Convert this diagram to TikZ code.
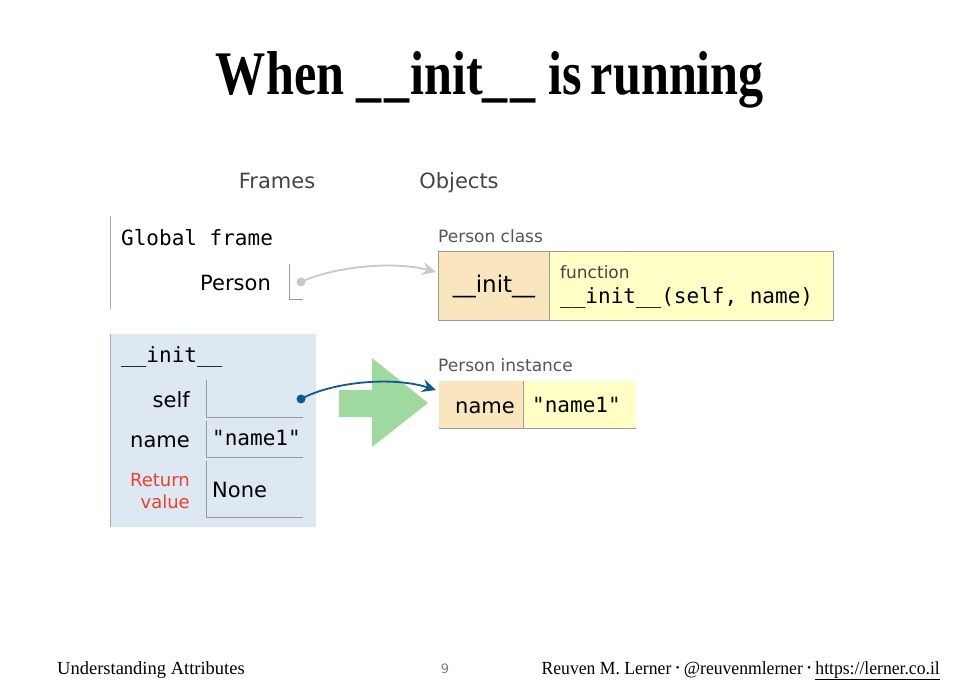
\documentclass[tikz,border=0pt]{standalone}
\usepackage{fontspec}
\setmainfont{Liberation Serif}
\setsansfont{DejaVu Sans}
\setmonofont{DejaVu Sans Mono}
\usepackage{xcolor}
\usetikzlibrary{arrows.meta, positioning, calc}

\definecolor{framebg}{HTML}{DDE8F3}
\definecolor{framerule}{HTML}{A9A9A9}
\definecolor{keycell}{HTML}{F9E6BE}
\definecolor{valcell}{HTML}{FFFFC6}
\definecolor{cellrule}{HTML}{9A9A9A}
\definecolor{refblue}{HTML}{0F5A8C}
\definecolor{refgray}{HTML}{C8C8C8}
\definecolor{bigarrow}{HTML}{9FD99F}
\definecolor{retred}{HTML}{E8412F}
\definecolor{labelgray}{HTML}{555555}
\definecolor{headgray}{HTML}{444444}

\newcommand{\sepdot}{\raisebox{0.35ex}{\scalebox{0.6}{\textbullet}}}

\begin{document}
\begin{tikzpicture}[
  x=1bp, y=-1bp,
  sans/.style={font=\sffamily\fontsize{21bp}{25bp}\selectfont, inner sep=0pt},
  mono/.style={font=\ttfamily\fontsize{21bp}{25bp}\selectfont, inner sep=0pt},
  smalllabel/.style={font=\sffamily\fontsize{17bp}{20bp}\selectfont, text=labelgray, inner sep=0pt},
  heading/.style={font=\sffamily\fontsize{21bp}{25bp}\selectfont, text=headgray, inner sep=0pt},
  retlabel/.style={font=\sffamily\fontsize{18bp}{23bp}\selectfont, text=retred, inner sep=0pt, align=right},
  footer/.style={font=\fontsize{18.5bp}{22bp}\selectfont, inner sep=0pt},
  keybox/.style={rectangle, fill=keycell, anchor=north west, inner sep=0pt},
  valbox/.style={rectangle, fill=valcell, anchor=north west, inner sep=0pt},
  framebox/.style={rectangle, fill=framebg, anchor=north west, inner sep=0pt},
  refdot/.style={circle, inner sep=0pt, minimum size=9bp},
  pointer/.style={line width=1.8bp, -{Stealth[length=14bp, width=13bp, inset=5bp]}},
  rule/.style={draw=cellrule, line width=1bp}
]
% page
\fill[white] (0,0) rectangle (980,692);

% title
\node[anchor=base, inner sep=0pt] (title) at (490,95)
  {\scalebox{0.81}[1]{\fontsize{62bp}{66bp}\selectfont\bfseries When \_\kern3bp\_\kern1bp init\_\kern3bp\_ is\kern-4bp\ running}};

% column headings
\node[heading, anchor=base] (frames) at (277,189) {Frames};
\node[heading, anchor=base] (objects) at (459,189) {Objects};

% global frame
\draw[draw=framerule, line width=1bp] (110,216) -- (110,309);
\node[mono, anchor=base west] (global) at (121,245) {Global frame};
\node[sans, anchor=base east] (personvar) at (271,290) {Person};
\coordinate (personcell) at (289,264);
\draw[rule] (personcell) -- ++(0,35) -- ++(14,0);
\node[refdot, fill=refgray] (persondot) at (301,282) {};

% Person class
\node[smalllabel, anchor=base west] (classlbl) at (438,242) {Person class};
\node[keybox, minimum width=111bp, minimum height=69bp] (initkey) at (438,251) {};
\node[valbox, minimum width=284bp, minimum height=69bp] (initval) at (549,251) {};
\node[font=\sffamily\fontsize{23bp}{27bp}\selectfont, inner sep=0pt, anchor=base] (initname) at (494,292) {\_\_init\_\_};
\node[smalllabel, text=headgray, anchor=base west] (funclbl) at (560,278) {function};
\node[mono, anchor=base west] (funcsig) at (560,303) {\_\_init\_\_(self, name)};
\draw[rule] (initkey.north west) rectangle (initval.south east);
\draw[rule] (initkey.north east) -- (initkey.south east);

% __init__ frame
\node[framebox, minimum width=206bp, minimum height=193bp] (initframe) at (110,334) {};
\draw[draw=framerule, line width=1bp] (initframe.north west) -- (initframe.south west);
\node[mono, anchor=base west] (framename) at (121,362) {\_\_init\_\_};

\node[sans, anchor=base east] (selfvar) at (190,407) {self};
\coordinate (selfcell) at (206,380);
\draw[rule] (selfcell) -- ++(0,37) -- ++(97,0);
\node[refdot, fill=refblue] (selfdot) at (301,399) {};

\node[sans, anchor=base east] (namevar) at (190,447) {name};
\coordinate (namecell) at (206,421);
\draw[rule] (namecell) -- ++(0,36) -- ++(97,0);
\node[mono, anchor=base west] (nameval) at (212,445) {"name1"};

\node[retlabel, anchor=base east] (retvar) at (190,486) {Return};
\node[retlabel, anchor=base east] (retvar2) at (190,508) {value};
\coordinate (retcell) at (206,461);
\draw[rule] (retcell) -- ++(0,56) -- ++(97,0);
\node[sans, anchor=base west] (retval) at (212,497) {None};

% big green arrow
\fill[bigarrow] (339,390) -- (372,390) -- (372,358) -- (428,403)
  -- (372,447) -- (372,417) -- (339,417) -- cycle;

% Person instance
\node[smalllabel, anchor=base west] (instlbl) at (438,371) {Person instance};
\node[keybox, minimum width=84bp, minimum height=47bp] (namekey) at (439,381) {};
\node[valbox, minimum width=113bp, minimum height=47bp] (nameattr) at (523,381) {};
\node[sans, anchor=base] (attrname) at (485,413) {name};
\node[mono, anchor=base west] (attrval) at (532,412) {"name1"};
\draw[rule] (namekey.south west) -- (nameattr.south east);
\draw[rule] (namekey.north east) -- (namekey.south east);

% pointers
\coordinate (classref) at ($(initkey.north west)+(-2,21)$);
\coordinate (instref) at ($(namekey.north west)+(-3,9)$);
\draw[pointer, refgray] (persondot.center) .. controls (330,268) and (390,260) .. (classref);
\draw[pointer, refblue] (selfdot.center) .. controls (332,382) and (392,376) .. (instref);

% footer
\node[footer, anchor=base west] (course) at (57,674) {Understanding Attributes};
\node[font=\sffamily\fontsize{13bp}{15bp}\selectfont, text=gray, inner sep=0pt, anchor=base] (pageno) at (445,673) {9};
\node[footer, anchor=base east] (author) at (940,674)
  {\scalebox{0.953}[1]{Reuven M. Lerner \sepdot{} @reuvenmlerner \sepdot{} \underline{https://lerner.co.il}}};
\end{tikzpicture}
\end{document}
